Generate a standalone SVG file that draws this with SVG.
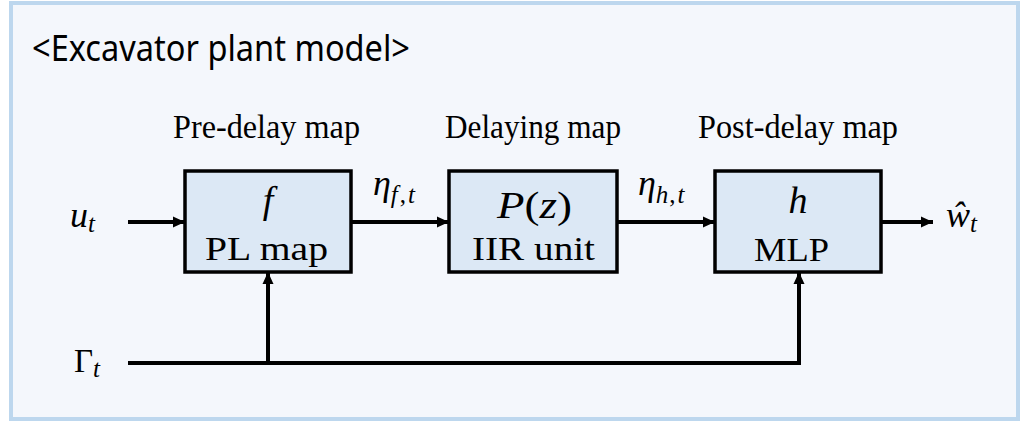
<svg xmlns="http://www.w3.org/2000/svg" width="1022" height="423" viewBox="0 0 1022 423">
<style>
.lbl{font-family:"Liberation Serif",serif;font-size:33px;fill:#000}
.math{font-family:"Liberation Serif",serif;font-style:italic;fill:#000}
.rm{font-family:"Liberation Serif",serif;font-style:normal;fill:#000}
.box{fill:#dce8f5;stroke:#000;stroke-width:3.5}
.wire{fill:none;stroke:#000;stroke-width:4}
</style>
<defs>
<marker id="ah" markerWidth="12" markerHeight="12" viewBox="0 0 12 12" refX="12" refY="6" orient="auto" markerUnits="userSpaceOnUse">
<path d="M0,0.5 L12,6 L0,11.5 Z" fill="#000"/>
</marker>
</defs>
<rect x="11" y="3" width="1007" height="416" fill="#f4f7fc" stroke="#bdd7ee" stroke-width="4"/>
<text x="32" y="61" font-family="'Noto Sans',sans-serif" font-size="36" textLength="378" lengthAdjust="spacingAndGlyphs">&lt;Excavator plant model&gt;</text>

<g id="labels">
<text class="lbl" x="173" y="138" textLength="187" lengthAdjust="spacingAndGlyphs">Pre-delay map</text>
<text class="lbl" x="445" y="138" textLength="176" lengthAdjust="spacingAndGlyphs">Delaying map</text>
<text class="lbl" x="698" y="138" textLength="200" lengthAdjust="spacingAndGlyphs">Post-delay map</text>
</g>

<g id="connectors">
<line class="wire" x1="128" y1="222" x2="185" y2="222" marker-end="url(#ah)"/>
<line class="wire" x1="351" y1="222" x2="449" y2="222" marker-end="url(#ah)"/>
<line class="wire" x1="617" y1="222" x2="715" y2="222" marker-end="url(#ah)"/>
<line class="wire" x1="881" y1="222" x2="933" y2="222" marker-end="url(#ah)"/>
<path class="wire" d="M128,363 L799,363 L799,272" marker-end="url(#ah)"/>
<line class="wire" x1="268" y1="363" x2="268" y2="272" marker-end="url(#ah)"/>
</g>

<g id="node-f">
<rect class="box" x="185" y="171" width="166" height="101"/>
<text class="math" x="268" y="213" font-size="38" text-anchor="middle">f</text>
<text class="lbl" x="205" y="260" textLength="123" lengthAdjust="spacingAndGlyphs">PL map</text>
</g>

<g id="node-P">
<rect class="box" x="449" y="171" width="168" height="101"/>
<text x="497" y="218" font-size="37" class="rm" textLength="75" lengthAdjust="spacingAndGlyphs"><tspan class="math">P</tspan>(<tspan class="math">z</tspan>)</text>
<text class="lbl" x="472" y="260" textLength="123" lengthAdjust="spacingAndGlyphs">IIR unit</text>
</g>

<g id="node-h">
<rect class="box" x="715" y="171" width="166" height="101"/>
<text class="math" x="798" y="213" font-size="38" text-anchor="middle">h</text>
<text class="lbl" x="754" y="261" textLength="75" lengthAdjust="spacingAndGlyphs">MLP</text>
</g>

<g id="signals">
<text class="math" x="70" y="227" font-size="36">u<tspan font-size="25" dy="5">t</tspan></text>
<text class="rm" x="74" y="372" font-size="33">Γ<tspan class="math" font-size="25" dy="5">t</tspan></text>
<text class="math" x="373" y="195" font-size="36">η<tspan font-size="25" dy="8">f</tspan><tspan class="rm" font-size="25" dx="2">,</tspan><tspan font-size="25" dx="2">t</tspan></text>
<text class="math" x="638" y="195" font-size="36">η<tspan font-size="25" dy="8">h</tspan><tspan class="rm" font-size="25" dx="1">,</tspan><tspan font-size="25" dx="2">t</tspan></text>
<text class="math" x="946" y="227" font-size="36">ŵ<tspan font-size="25" dy="5">t</tspan></text>
</g>
</svg>
